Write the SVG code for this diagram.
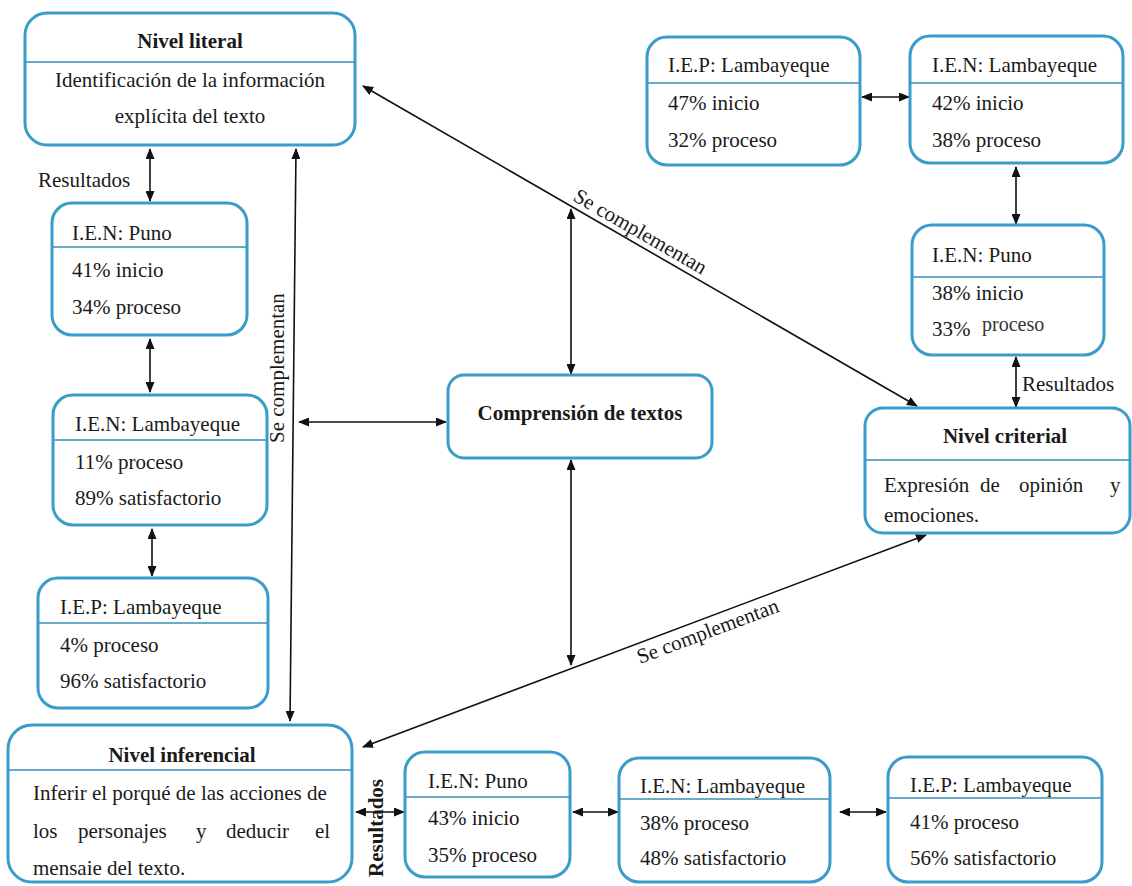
<svg xmlns="http://www.w3.org/2000/svg" width="1132" height="886" viewBox="0 0 1132 886">
<defs>
<marker id="ah" markerUnits="userSpaceOnUse" markerWidth="11" markerHeight="9" refX="10" refY="4.5" orient="auto-start-reverse">
<path d="M0,0 L11,4.5 L0,9 z" fill="#111"/>
</marker>
<style>
.box{fill:#fff;stroke:#3a9ccb;stroke-width:3}
.div{stroke:#3a8fb5;stroke-width:1.5}
.t{font-family:"Liberation Serif","Times New Roman",serif;font-size:21px;fill:#1a1a1a}
.b{font-weight:bold}
.m{text-anchor:middle}
.c{fill:none;stroke:#111;stroke-width:1.6;marker-start:url(#ah);marker-end:url(#ah)}
</style>
</defs>
<rect width="1132" height="886" fill="#fff"/>

<g id="connectors">
<line class="c" x1="150" y1="149" x2="150" y2="201"/>
<line class="c" x1="150" y1="339" x2="150" y2="392"/>
<line class="c" x1="152" y1="529" x2="152" y2="576"/>
<line class="c" x1="296" y1="149" x2="290" y2="721"/>
<line class="c" x1="299" y1="422" x2="446" y2="422"/>
<line class="c" x1="571" y1="209" x2="571" y2="374"/>
<line class="c" x1="571" y1="460" x2="571" y2="665"/>
<line class="c" x1="363" y1="86" x2="917" y2="406"/>
<line class="c" x1="926" y1="535" x2="363" y2="747"/>
<line class="c" x1="356" y1="812" x2="404" y2="812"/>
<line class="c" x1="573" y1="812" x2="618" y2="812"/>
<line class="c" x1="840" y1="812" x2="886" y2="812"/>
<line class="c" x1="862" y1="97" x2="909" y2="97"/>
<line class="c" x1="1016" y1="167" x2="1016" y2="224"/>
<line class="c" x1="1016" y1="357" x2="1016" y2="407"/>
<text class="t" x="38" y="187">Resultados</text>
<text class="t" transform="translate(284,443) rotate(-90)">Se complementan</text>
<text class="t" transform="translate(572,200) rotate(30)">Se complementan</text>
<text class="t" transform="translate(640,664) rotate(-20.6)">Se complementan</text>
<text class="t" x="1022" y="391">Resultados</text>
<text class="t b" transform="translate(383,877) rotate(-90)">Resultados</text>
</g>

<g id="nivel-literal">
<rect class="box" x="25" y="13" width="330" height="132" rx="22"/>
<line class="div" x1="26" y1="62" x2="354" y2="62"/>
<text class="t b m" x="190" y="48">Nivel literal</text>
<text class="t m" x="190" y="87">Identificación de la información</text>
<text class="t m" x="190" y="123">explícita del texto</text>
</g>

<g id="ien-puno-left">
<rect class="box" x="52" y="203" width="195" height="132" rx="20"/>
<line class="div" x1="53" y1="247" x2="246" y2="247"/>
<text class="t" x="72" y="240">I.E.N: Puno</text>
<text class="t" x="72" y="277">41% inicio</text>
<text class="t" x="72" y="314">34% proceso</text>
</g>

<g id="ien-lambayeque-left">
<rect class="box" x="53" y="395" width="214" height="130" rx="20"/>
<line class="div" x1="54" y1="440" x2="266" y2="440"/>
<text class="t" x="75" y="431">I.E.N: Lambayeque</text>
<text class="t" x="75" y="469">11% proceso</text>
<text class="t" x="75" y="505">89% satisfactorio</text>
</g>

<g id="iep-lambayeque-left">
<rect class="box" x="38" y="578" width="230" height="130" rx="20"/>
<line class="div" x1="39" y1="623" x2="267" y2="623"/>
<text class="t" x="60" y="614">I.E.P: Lambayeque</text>
<text class="t" x="60" y="652">4% proceso</text>
<text class="t" x="60" y="688">96% satisfactorio</text>
</g>

<g id="comprension">
<rect class="box" x="448" y="375" width="264" height="83" rx="16"/>
<text class="t b m" x="580" y="420">Comprensión de textos</text>
</g>

<g id="nivel-inferencial">
<rect class="box" x="8" y="725" width="344" height="157" rx="24"/>
<line class="div" x1="9" y1="770" x2="351" y2="770"/>
<text class="t b m" x="182" y="762">Nivel inferencial</text>
<text class="t" x="33" y="800">Inferir el porqué de las acciones de</text>
<text class="t" y="838"><tspan x="33">los</tspan><tspan x="78">personajes</tspan><tspan x="196">y</tspan><tspan x="226">deducir</tspan><tspan x="315">el</tspan></text>
<text class="t" x="33" y="875">mensaie del texto.</text>
</g>

<g id="ien-puno-bottom">
<rect class="box" x="405" y="752" width="165" height="125" rx="20"/>
<line class="div" x1="406" y1="797" x2="569" y2="797"/>
<text class="t" x="428" y="788">I.E.N: Puno</text>
<text class="t" x="428" y="825">43% inicio</text>
<text class="t" x="428" y="862">35% proceso</text>
</g>

<g id="ien-lambayeque-bottom">
<rect class="box" x="619" y="758" width="211" height="124" rx="20"/>
<line class="div" x1="620" y1="799" x2="829" y2="799"/>
<text class="t" x="640" y="793">I.E.N: Lambayeque</text>
<text class="t" x="640" y="830">38% proceso</text>
<text class="t" x="640" y="865">48% satisfactorio</text>
</g>

<g id="iep-lambayeque-bottom">
<rect class="box" x="888" y="757" width="214" height="125" rx="20"/>
<line class="div" x1="889" y1="798" x2="1101" y2="798"/>
<text class="t" x="910" y="792">I.E.P: Lambayeque</text>
<text class="t" x="910" y="829">41% proceso</text>
<text class="t" x="910" y="865">56% satisfactorio</text>
</g>

<g id="iep-lambayeque-top">
<rect class="box" x="647" y="37" width="213" height="128" rx="20"/>
<line class="div" x1="648" y1="83" x2="859" y2="83"/>
<text class="t" x="668" y="72">I.E.P: Lambayeque</text>
<text class="t" x="668" y="110">47% inicio</text>
<text class="t" x="668" y="147">32% proceso</text>
</g>

<g id="ien-lambayeque-top">
<rect class="box" x="910" y="36" width="213" height="127" rx="20"/>
<line class="div" x1="911" y1="83" x2="1122" y2="83"/>
<text class="t" x="932" y="72">I.E.N: Lambayeque</text>
<text class="t" x="932" y="110">42% inicio</text>
<text class="t" x="932" y="147">38% proceso</text>
</g>

<g id="ien-puno-right">
<rect class="box" x="912" y="225" width="192" height="130" rx="20"/>
<line class="div" x1="913" y1="277" x2="1103" y2="277"/>
<text class="t" x="932" y="262">I.E.N: Puno</text>
<text class="t" x="932" y="300">38% inicio</text>
<text class="t" x="932" y="336">33%</text>
<text class="t" x="982" y="331" style="font-size:20px;fill:#333">proceso</text>
</g>

<g id="nivel-criterial">
<rect class="box" x="865" y="408" width="265" height="125" rx="18"/>
<line class="div" x1="866" y1="460" x2="1129" y2="460"/>
<text class="t b m" x="1005" y="443">Nivel criterial</text>
<text class="t" y="492"><tspan x="884">Expresión</tspan><tspan x="980">de</tspan><tspan x="1019">opinión</tspan><tspan x="1110">y</tspan></text>
<text class="t" x="884" y="522">emociones.</text>
</g>
</svg>
